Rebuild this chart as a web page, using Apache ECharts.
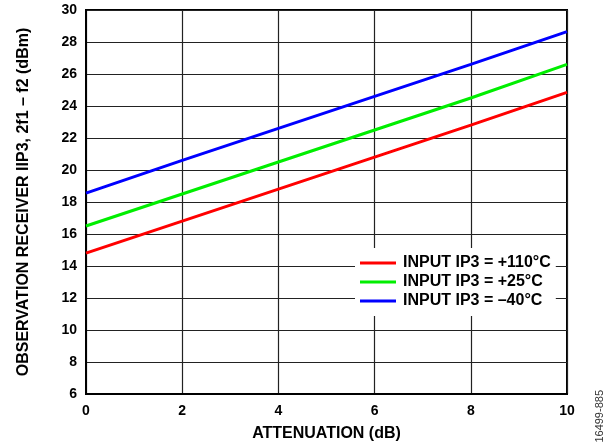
<!DOCTYPE html>
<html>
<head>
<meta charset="utf-8">
<script src="https://cdn.jsdelivr.net/npm/echarts@6/dist/echarts.min.js"></script>
<style>
  html, body { margin: 0; padding: 0; background: #fff; }
  #chart { width: 616px; height: 444px; }
</style>
</head>
<body>
<div id="chart"></div>
<script>
// attenuation in dB
const attenuation = [0, 2, 4, 6, 8, 10];
// observation receiver IIP3 (dBm) per input IP3 temperature
const iip3Hot = [14.8, 16.8, 18.8, 20.8, 22.8, 24.85];
const iip3Room = [16.5, 18.5, 20.5, 22.5, 24.5, 26.6];
const iip3Cold = [18.55, 20.6, 22.6, 24.6, 26.6, 28.65];
const seriesNames = ['INPUT IP3 = +110°C', 'INPUT IP3 = +25°C', 'INPUT IP3 = \u201340°C'];

const chart = echarts.init(document.getElementById('chart'));

const font = 'Arial, "Liberation Sans", sans-serif';
const tickStyle = { color: '#000', fontWeight: 'bold', fontSize: 14, fontFamily: font };
const titleStyle = { color: '#000', fontWeight: 'bold', fontSize: 16, fontFamily: font };

const makeSeries = (name, values, color) => ({
  name: name,
  type: 'line',
  data: attenuation.map((x, i) => [x, values[i]]),
  showSymbol: false,
  lineStyle: { color: color, width: 3 },
  itemStyle: { color: color },
  animation: false,
});

chart.setOption({
  animation: false,
  grid: {
    left: 86, right: 49, top: 10, bottom: 50,
    outerBoundsMode: 'none',
    containLabel: false,
    show: true, borderColor: '#000', borderWidth: 2,
  },
  xAxis: {
    type: 'value',
    min: 0, max: 10, interval: 2,
    name: 'ATTENUATION (dB)',
    nameLocation: 'middle',
    nameGap: 32,
    nameTextStyle: titleStyle,
    axisLabel: { ...tickStyle, margin: 10 },
    axisLine: { show: true, lineStyle: { color: '#000', width: 2 } },
    axisTick: { show: false },
    splitLine: { show: true, lineStyle: { color: '#222', width: 1.2 } },
  },
  yAxis: {
    type: 'value',
    min: 6, max: 30, interval: 2,
    name: 'OBSERVATION RECEIVER IIP3, 2f1 \u2013 f2 (dBm)',
    nameLocation: 'middle',
    nameGap: 54,
    nameTextStyle: titleStyle,
    axisLabel: { ...tickStyle, margin: 9 },
    axisLine: { show: true, lineStyle: { color: '#000', width: 2 } },
    axisTick: { show: false },
    splitLine: { show: true, lineStyle: { color: '#222', width: 1.2 } },
  },
  legend: {
    orient: 'vertical',
    left: 355,
    top: 248,
    backgroundColor: '#fff',
    padding: [7, 5, 7, 5],
    itemWidth: 36,
    itemHeight: 3,
    itemGap: 3,
    icon: 'rect',
    textStyle: { ...titleStyle, padding: [0, 0, 0, 2] },
    data: seriesNames,
  },
  graphic: [{
    type: 'text',
    left: 594,
    top: 390,
    rotation: Math.PI / 2,
    style: { text: '16499-885', fill: '#333', font: '11px Arial, "Liberation Sans", sans-serif' },
  }],
  series: [
    makeSeries(seriesNames[0], iip3Hot, '#ff0000'),
    makeSeries(seriesNames[1], iip3Room, '#00ee00'),
    makeSeries(seriesNames[2], iip3Cold, '#0000ff'),
  ],
});
</script>
</body>
</html>
